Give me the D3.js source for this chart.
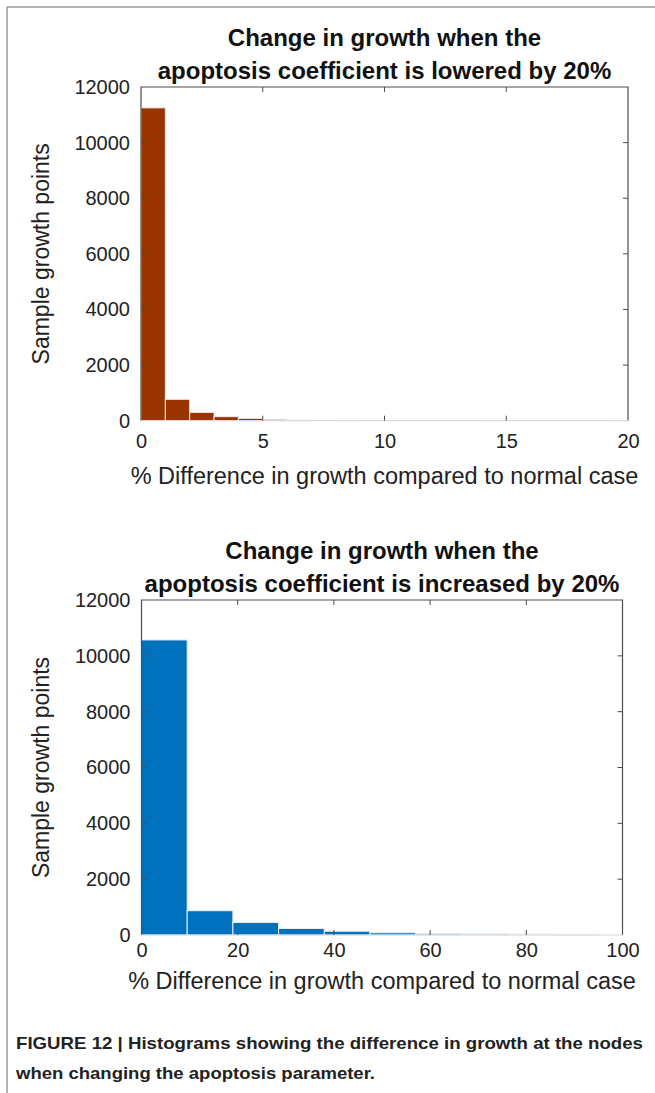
<!DOCTYPE html>
<html>
<head>
<meta charset="utf-8">
<script src="https://cdn.jsdelivr.net/npm/d3@7"></script>
<style>
  html, body { margin: 0; padding: 0; background: #fff; }
  svg { display: block; font-family: "Liberation Sans", Arial, Helvetica, sans-serif; }
</style>
</head>
<body>
<svg id="fig" width="655" height="1093"></svg>
<script>
// Histogram of growth change, apoptosis coefficient lowered by 20% (bins of width 1)
const lowerBinWidth = 1;
const lowerCounts = [11250, 770, 300, 145, 85, 50, 25, 10, 8, 0, 0, 0, 0, 0, 3, 0, 0, 0, 0, 3];
const lowerXTicks = [0, 5, 10, 15, 20];

// Histogram of growth change, apoptosis coefficient increased by 20% (bins of width 9.5)
const raiseBinWidth = 9.5;
const raiseCounts = [10570, 870, 450, 235, 135, 80, 45, 40, 35, 20];
const raiseXTicks = [0, 20, 40, 60, 80, 100];

const yTicks = [0, 2000, 4000, 6000, 8000, 10000, 12000];

const titlesLower = ["Change in growth when the", "apoptosis coefficient is lowered by 20%"];
const titlesRaise = ["Change in growth when the", "apoptosis coefficient is increased by 20%"];
const xLabel = "% Difference in growth compared to normal case";
const yLabel = "Sample growth points";
const captionLines = [
  "FIGURE 12 | Histograms showing the difference in growth at the nodes",
  "when changing the apoptosis parameter."
];

const svg = d3.select("#fig");

// figure frame (top and left rules)
svg.append("line").attr("x1", 7).attr("y1", 7).attr("x2", 655).attr("y2", 7)
  .attr("stroke", "#9a9a9a").attr("stroke-width", 1.5);
svg.append("line").attr("x1", 7).attr("y1", 7).attr("x2", 7).attr("y2", 1093)
  .attr("stroke", "#9a9a9a").attr("stroke-width", 1.5);

function drawHistogram(opts) {
  const { counts, binWidth, xMax, xTicks, color, box, titles, xLabelGap, xTickPad } = opts;
  const x = d3.scaleLinear().domain([0, xMax]).range([box.left, box.right]);
  const y = d3.scaleLinear().domain([0, 12000]).range([box.bottom, box.top]);
  const g = svg.append("g");

  const bins = counts.map((c, i) => ({ x0: i * binWidth, x1: (i + 1) * binWidth, count: c }));

  // bars
  g.append("g").selectAll("rect").data(bins.filter(d => d.count > 0)).join("rect")
    .attr("x", d => x(d.x0))
    .attr("width", d => x(d.x1) - x(d.x0))
    .attr("y", d => y(d.count))
    .attr("height", d => y(0) - y(d.count))
    .attr("fill", color)
    .attr("stroke", "#eef0f2")
    .attr("stroke-width", 1);

  const axisColor = "#4d4d4d";
  const tickLen = 5;

  // box: left, top, right dark; bottom faint
  g.append("path")
    .attr("d", `M${box.left},${box.bottom}V${box.top}H${box.right}V${box.bottom}`)
    .attr("fill", "none").attr("stroke", axisColor).attr("stroke-width", 1.2);
  g.append("line")
    .attr("x1", box.left).attr("x2", box.right).attr("y1", box.bottom).attr("y2", box.bottom)
    .attr("stroke", "#d8d8d8").attr("stroke-width", 1);

  // x axis labels (bottom)
  const xAxis = d3.axisBottom(x).tickValues(xTicks).tickSize(0).tickPadding(xTickPad)
    .tickFormat(d3.format("d"));
  const xa = g.append("g").attr("transform", `translate(0,${box.bottom})`).call(xAxis);
  xa.select(".domain").remove();
  xa.selectAll("text").attr("font-size", 20).attr("fill", "#222")
    .attr("font-family", "'Liberation Sans', Arial, sans-serif");

  // inward tick marks on bottom and top edges
  const innerX = xTicks.filter(t => t > 0 && t < xMax);
  g.append("g").selectAll("line.bt").data(innerX).join("line")
    .attr("x1", d => x(d)).attr("x2", d => x(d))
    .attr("y1", box.bottom).attr("y2", box.bottom - tickLen)
    .attr("stroke", axisColor).attr("stroke-width", 1);
  g.append("g").selectAll("line.tt").data(innerX).join("line")
    .attr("x1", d => x(d)).attr("x2", d => x(d))
    .attr("y1", box.top).attr("y2", box.top + tickLen)
    .attr("stroke", axisColor).attr("stroke-width", 1);

  // y axis labels (left) with inward ticks on both sides
  const yAxis = d3.axisLeft(y).tickValues(yTicks).tickSize(0).tickPadding(11)
    .tickFormat(d3.format("d"));
  const ya = g.append("g").attr("transform", `translate(${box.left},0)`).call(yAxis);
  ya.select(".domain").remove();
  ya.selectAll("text").attr("font-size", 20).attr("fill", "#222")
    .attr("font-family", "'Liberation Sans', Arial, sans-serif");

  const innerY = yTicks.filter(t => t > 0 && t < 12000);
  g.append("g").selectAll("line.rt").data(innerY).join("line")
    .attr("x1", box.right).attr("x2", box.right - tickLen)
    .attr("y1", d => y(d)).attr("y2", d => y(d))
    .attr("stroke", axisColor).attr("stroke-width", 1);
  g.append("g").selectAll("line.lt").data(innerY).join("line")
    .attr("x1", box.left).attr("x2", box.left + tickLen)
    .attr("y1", d => y(d)).attr("y2", d => y(d))
    .attr("stroke", axisColor).attr("stroke-width", 1);

  const cx = (box.left + box.right) / 2;

  // title (two lines, bold)
  g.append("text").attr("x", cx).attr("y", box.top - 41)
    .attr("text-anchor", "middle").attr("font-weight", "bold").attr("font-size", 24)
    .attr("fill", "#111").text(titles[0]);
  g.append("text").attr("x", cx).attr("y", box.top - 8)
    .attr("text-anchor", "middle").attr("font-weight", "bold").attr("font-size", 24)
    .attr("fill", "#111").text(titles[1]);

  // x label
  g.append("text").attr("x", cx).attr("y", box.bottom + xLabelGap)
    .attr("text-anchor", "middle").attr("font-size", 23.5).attr("fill", "#222")
    .text(xLabel);

  // y label
  const cy = (box.top + box.bottom) / 2;
  g.append("text").attr("transform", `translate(49,${cy}) rotate(-90)`)
    .attr("text-anchor", "middle").attr("font-size", 23).attr("fill", "#222")
    .text(yLabel);
}

drawHistogram({
  counts: lowerCounts, binWidth: lowerBinWidth, xMax: 20, xTicks: lowerXTicks,
  color: "#993300", titles: titlesLower, xLabelGap: 63, xTickPad: 13,
  box: { left: 141, right: 628, top: 87, bottom: 420.7 }
});

drawHistogram({
  counts: raiseCounts, binWidth: raiseBinWidth, xMax: 100, xTicks: raiseXTicks,
  color: "#0072bd", titles: titlesRaise, xLabelGap: 54, xTickPad: 8,
  box: { left: 141.5, right: 622.5, top: 600, bottom: 935 }
});

// caption
const capWidths = [627, 359];
captionLines.forEach((line, i) => {
  svg.append("text").attr("x", 16).attr("y", 1049 + i * 30)
    .attr("font-weight", "bold").attr("font-size", 17).attr("fill", "#222")
    .attr("textLength", capWidths[i]).attr("lengthAdjust", "spacingAndGlyphs")
    .text(line);
});
</script>
</body>
</html>
